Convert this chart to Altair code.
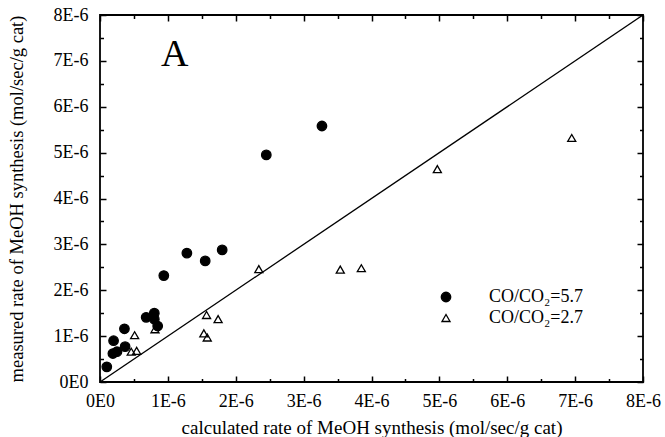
import altair as alt
import pandas as pd

# values in units of 1E-6 mol/sec/g cat
series_labels = ["CO/CO₂=5.7", "CO/CO₂=2.7"]
calc_57 = [0.10, 0.19, 0.20, 0.25, 0.36, 0.37, 0.68, 0.80, 0.80, 0.85, 0.94, 1.28, 1.55, 1.80, 2.45, 3.27]
meas_57 = [0.33, 0.62, 0.90, 0.66, 1.16, 0.77, 1.41, 1.50, 1.37, 1.22, 2.32, 2.81, 2.64, 2.88, 4.95, 5.58]
calc_27 = [0.46, 0.51, 0.54, 0.81, 1.53, 1.57, 1.58, 1.74, 2.34, 3.54, 3.85, 4.97, 6.95]
meas_27 = [0.66, 1.02, 0.68, 1.15, 1.06, 1.46, 0.97, 1.37, 2.46, 2.45, 2.48, 4.64, 5.32]
major_ticks = [0, 1, 2, 3, 4, 5, 6, 7, 8]
minor_ticks = [0.5, 1.5, 2.5, 3.5, 4.5, 5.5, 6.5, 7.5]
diag_x = [0, 8]
diag_y = [0, 8]
panel_label = ["A"]
panel_x = [1.1]
panel_y = [7.12]

df = pd.DataFrame({
    "calc": calc_57 + calc_27,
    "meas": meas_57 + meas_27,
    "series": [series_labels[0]] * len(calc_57) + [series_labels[1]] * len(calc_27),
})
diag = pd.DataFrame({"calc": diag_x, "meas": diag_y})
lab = pd.DataFrame({"calc": panel_x, "meas": panel_y, "t": panel_label})

W, H = 543, 367
FONT = "Liberation Serif"
xs = alt.Scale(domain=[0, 8], nice=False, zero=False)
ys = alt.Scale(domain=[0, 8], nice=False, zero=False)
label_expr = "datum.value == 0 ? '0E0' : datum.value + 'E-6'"

x_main = alt.Axis(orient="bottom", values=major_ticks, labelExpr=label_expr, ticks=False,
                  domain=False, grid=False, labelFont=FONT, labelFontSize=18, labelColor="black",
                  labelPadding=10, labelFlush=False, labelOverlap=False,
                  title="calculated rate of MeOH synthesis (mol/sec/g cat)", titleFont=FONT,
                  titleFontSize=19, titleFontWeight="normal", titleColor="black", titlePadding=8)
y_main = alt.Axis(orient="left", values=major_ticks, labelExpr=label_expr, ticks=False,
                  domain=False, grid=False, labelFont=FONT, labelFontSize=18, labelColor="black",
                  labelPadding=12, labelFlush=False, labelOverlap=False,
                  title="measured rate of MeOH synthesis (mol/sec/g cat)", titleFont=FONT,
                  titleFontSize=18.5, titleFontWeight="normal", titleColor="black", titlePadding=27)


def tick_axis(orient, offset, values, size):
    return alt.Axis(orient=orient, offset=offset, values=values, tickSize=size, tickWidth=1.5,
                    tickColor="black", labels=False, domain=False, grid=False, title=None)


leg = alt.Legend(orient="none", legendX=337, legendY=273, title=None, labelFont=FONT,
                 labelFontSize=18, labelColor="black", labelOffset=34, rowPadding=3, padding=0,
                 symbolStrokeWidth=1.3, symbolOpacity=1, labelLimit=0)

line = alt.Chart(diag).mark_line(color="black", strokeWidth=1.3, clip=True).encode(
    x=alt.X("calc:Q", scale=xs, axis=None),
    y=alt.Y("meas:Q", scale=ys, axis=None),
)

points = alt.Chart(df).mark_point(opacity=1, strokeWidth=1.3).encode(
    x=alt.X("calc:Q", scale=xs, axis=x_main),
    y=alt.Y("meas:Q", scale=ys, axis=y_main),
    shape=alt.Shape("series:N", scale=alt.Scale(domain=series_labels, range=["circle", "triangle-up"]), legend=leg),
    fill=alt.Fill("series:N", scale=alt.Scale(domain=series_labels, range=["black", "transparent"]), legend=leg),
    stroke=alt.Stroke("series:N", scale=alt.Scale(domain=series_labels, range=["black", "black"]), legend=leg),
    size=alt.Size("series:N", scale=alt.Scale(domain=series_labels, range=[90, 65]), legend=leg),
)

text = alt.Chart(lab).mark_text(font=FONT, fontSize=38, color="black").encode(
    x=alt.X("calc:Q", scale=xs, axis=None),
    y=alt.Y("meas:Q", scale=ys, axis=None),
    text="t:N",
)


def xtick_layer(orient, values, size):
    return alt.Chart(diag).mark_point(opacity=0).encode(
        x=alt.X("calc:Q", scale=xs, axis=tick_axis(orient, -H, values, size)),
        y=alt.Y("meas:Q", scale=ys, axis=None),
    )


def ytick_layer(orient, values, size):
    return alt.Chart(diag).mark_point(opacity=0).encode(
        x=alt.X("calc:Q", scale=xs, axis=None),
        y=alt.Y("meas:Q", scale=ys, axis=tick_axis(orient, -W, values, size)),
    )


layers = [
    line, points, text,
    xtick_layer("top", major_ticks, 6), xtick_layer("top", minor_ticks, 3.5),
    xtick_layer("bottom", major_ticks, 6), xtick_layer("bottom", minor_ticks, 3.5),
    ytick_layer("right", major_ticks, 6), ytick_layer("right", minor_ticks, 3.5),
    ytick_layer("left", major_ticks, 6), ytick_layer("left", minor_ticks, 3.5),
]

chart = alt.layer(*layers).resolve_axis(x="independent", y="independent").properties(
    width=W, height=H,
    padding={"left": 100, "top": 15, "right": 22, "bottom": 55},
    autosize=alt.AutoSizeParams(type="none"),
    background="white",
).configure_view(stroke="black", strokeWidth=1.8)

chart.save("out.html", embed_options={"renderer": "svg", "actions": False})
